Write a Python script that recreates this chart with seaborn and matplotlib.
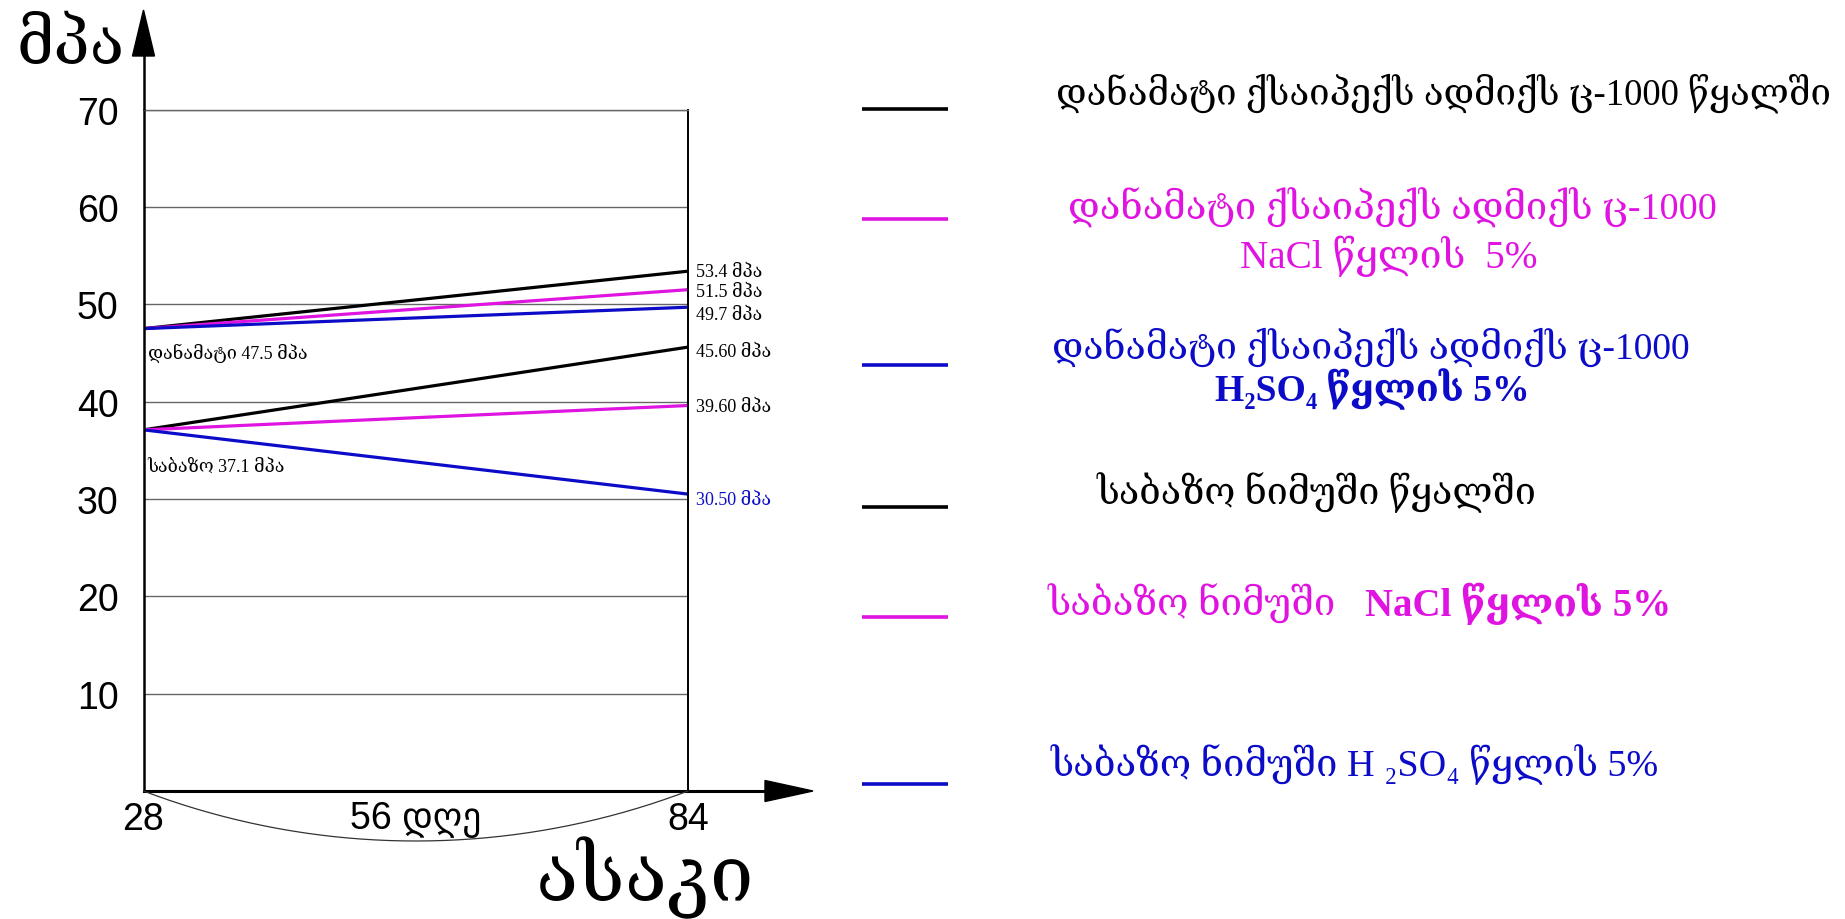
import numpy as np
import pandas as pd
import matplotlib
matplotlib.use("Agg")
import matplotlib.pyplot as plt
import seaborn as sns

# ---------------- data ----------------
days = [28, 84]
series_names = ["დანამატი წყალში", "დანამატი NaCl", "დანამატი H2SO4",
                "საბაზო წყალში", "საბაზო NaCl", "საბაზო H2SO4"]
additive_water = [47.5, 53.4]
additive_nacl = [47.5, 51.5]
additive_h2so4 = [47.5, 49.7]
base_water = [37.1, 45.60]
base_nacl = [37.1, 39.60]
base_h2so4 = [37.1, 30.50]
end_labels = ["53.4 მპა", "51.5 მპა", "49.7 მპა", "45.60 მპა", "39.60 მპა", "30.50 მპა"]
start_labels = ["დანამატი 47.5 მპა", "საბაზო 37.1 მპა"]
y_ticks = [10, 20, 30, 40, 50, 60, 70]
x_ticks = [28, 56, 84]
x_tick_labels = ["28", "56 დღე", "84"]
y_unit = "მპა"
x_title = "ასაკი"
legend_texts = [
    ["დანამატი ქსაიპექს ადმიქს ც-1000 წყალში"],
    ["დანამატი ქსაიპექს ადმიქს ც-1000", "NaCl წყლის  5%"],
    ["დანამატი ქსაიპექს ადმიქს ც-1000", "H₂SO₄ წყლის 5%"],
    ["საბაზო ნიმუში წყალში"],
    ["საბაზო ნიმუში", "NaCl წყლის 5%"],
    ["საბაზო ნიმუში H ₂SO₄ წყლის 5%"],
]

BLACK, MAG, BLUE = "#000000", "#e014e0", "#0c0cc8"
colors = [BLACK, MAG, BLUE, BLACK, MAG, BLUE]
all_values = [additive_water, additive_nacl, additive_h2so4,
              base_water, base_nacl, base_h2so4]

rows = []
for name, vals in zip(series_names, all_values):
    for d, v in zip(days, vals):
        rows.append({"day": d, "value": v, "series": name})
df = pd.DataFrame(rows)

# ---------------- style ----------------
sns.set_theme(style="white")
SANS = ["Liberation Sans", "DejaVu Sans"]
SERIF = ["Liberation Serif", "DejaVu Serif", "DejaVu Sans"]
plt.rcParams["font.family"] = SANS

W, H = 1845, 920
fig = plt.figure(figsize=(W / 100, H / 100), dpi=100)
fig.patch.set_facecolor("white")

ax_l, ax_r, ax_t, ax_b = 143.5, 688.0, 110.6, 792.0
ax = fig.add_axes([ax_l / W, 1 - ax_b / H, (ax_r - ax_l) / W, (ax_b - ax_t) / H])

sns.lineplot(data=df, x="day", y="value", hue="series", hue_order=series_names,
             palette=dict(zip(series_names, colors)), linewidth=2.3,
             estimator=None, sort=False, legend=False, ax=ax)

ax.set_xlim(28, 84)
ax.set_ylim(0, 70)
ax.set_yticks(y_ticks)
ax.set_xticks(x_ticks)
ax.set_xticklabels(x_tick_labels)
ax.set_xlabel("")
ax.set_ylabel("")
ax.yaxis.grid(True, color="#666666", linewidth=1.0)
ax.xaxis.grid(False)
ax.set_axisbelow(True)
ax.tick_params(axis="y", length=0, pad=18, labelsize=27, colors="black")
ax.tick_params(axis="x", length=0, pad=7, labelsize=27, colors="black")
for lbl in ax.get_xticklabels() + ax.get_yticklabels():
    lbl.set_fontfamily(SANS)

ax.spines["left"].set_color("black"); ax.spines["left"].set_linewidth(1.8)
ax.spines["bottom"].set_color("black"); ax.spines["bottom"].set_linewidth(2.2)
ax.spines["right"].set_color("black"); ax.spines["right"].set_linewidth(1.4)
ax.spines["top"].set_color("#666666"); ax.spines["top"].set_linewidth(1.0)

# value labels at the end points (small vertical nudges to separate them)
nudges = [0, -1.5, -5, -3, -1, -4]
for vals, lab, col, dy in zip(all_values, end_labels, colors, nudges):
    ax.annotate(lab, xy=(days[-1], vals[-1]), xytext=(6, dy), textcoords="offset points",
                ha="left", va="center", fontsize=13, family=SERIF,
                color=(BLUE if col == BLUE and vals[-1] < vals[0] else BLACK),
                annotation_clip=False)

# start labels
ax.annotate(start_labels[0], xy=(days[0], additive_water[0]), xytext=(3, -17),
            textcoords="offset points", ha="left", va="center", fontsize=13,
            family=SERIF, color=BLACK)
ax.annotate(start_labels[1], xy=(days[0], base_water[0]), xytext=(3, -26),
            textcoords="offset points", ha="left", va="center", fontsize=13,
            family=SERIF, color=BLACK)

# ---------------- overlay in pixel coordinates ----------------
ov = fig.add_axes([0, 0, 1, 1], zorder=5)
ov.set_xlim(0, W)
ov.set_ylim(H, 0)
ov.axis("off")
ov.patch.set_alpha(0)

# y-axis arrow
ov.plot([ax_l, ax_l], [ax_t, 52], color="black", lw=1.8, solid_capstyle="butt")
ov.fill([ax_l - 11, ax_l + 11, ax_l], [57, 57, 11], color="black")
# x-axis arrow
ov.plot([ax_r, 768], [ax_b, ax_b], color="black", lw=2.2, solid_capstyle="butt")
ov.fill([765, 765, 813], [ax_b - 10.5, ax_b + 10.5, ax_b], color="black")

# arc under the x axis
cx = (ax_l + ax_r) / 2
half = (ax_r - ax_l) / 2
sag = 50.0
R = (half ** 2 + sag ** 2) / (2 * sag)
cy = ax_b + sag - R
tmax = np.arcsin(half / R)
tt = np.linspace(-tmax, tmax, 200)
ov.plot(cx + R * np.sin(tt), cy + R * np.cos(tt), color="#333333", lw=0.9)

renderer = fig.canvas.get_renderer()


def fit(t, target):
    bb = t.get_window_extent(renderer=renderer)
    t.set_fontsize(t.get_fontsize() * target / bb.width)
    return t


fit(ov.text(17, 46, y_unit, ha="left", va="center", fontsize=40,
            family=["DejaVu Serif", "DejaVu Sans"], color="black"), 108)
fit(ov.text(645, 878, x_title, ha="center", va="center", fontsize=40,
            family=["DejaVu Serif", "DejaVu Sans"], color="black"), 218)

# legend
seg_y = [110, 220, 366, 508, 618, 785]
for y, col in zip(seg_y, colors):
    ov.plot([862, 948], [y, y], color=col, lw=2.6, solid_capstyle="butt")

fit(ov.text(1444, 93, legend_texts[0][0], ha="center", va="center", fontsize=24,
            family=SERIF, color=BLACK), 775)
fit(ov.text(1392, 208, legend_texts[1][0], ha="center", va="center", fontsize=24,
            family=SERIF, color=MAG), 650)
fit(ov.text(1389, 256, legend_texts[1][1], ha="center", va="center", fontsize=24,
            family=SERIF, color=MAG), 298)
fit(ov.text(1371, 347, legend_texts[2][0], ha="center", va="center", fontsize=24,
            family=SERIF, color=BLUE), 638)
fit(ov.text(1372, 389, legend_texts[2][1], ha="center", va="center", fontsize=24,
            family=SERIF, color=BLUE, fontweight="bold"), 315)
fit(ov.text(1316, 493, legend_texts[3][0], ha="center", va="center", fontsize=24,
            family=SERIF, color=BLACK), 440)
fit(ov.text(1336, 604, legend_texts[4][0], ha="right", va="center", fontsize=24,
            family=SERIF, color=MAG), 288)
fit(ov.text(1365, 604, legend_texts[4][1], ha="left", va="center", fontsize=24,
            family=SERIF, color=MAG, fontweight="bold"), 307)
fit(ov.text(1355, 765, legend_texts[5][0], ha="center", va="center", fontsize=24,
            family=SERIF, color=BLUE), 608)

fig.savefig("out.png", dpi=100, facecolor="white")
